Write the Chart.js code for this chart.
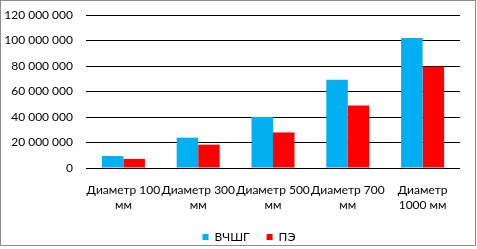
<!DOCTYPE html>
<html>
<head>
<meta charset="utf-8">
<script src="https://cdn.jsdelivr.net/npm/chart.js@4/dist/chart.umd.min.js"></script>
<style>
  html, body { margin: 0; padding: 0; background: #fff; }
  #frame { position: absolute; left: 0; top: 0; width: 476px; height: 246px; box-sizing: border-box; border: 1px solid #8c8c8c; }
  #wrap { position: absolute; left: 0; top: 0; width: 477px; height: 249px; }
</style>
</head>
<body>
<div id="frame"></div>
<div id="wrap"><canvas id="c" width="477" height="249"></canvas></div>
<script>
const categories = [
  ['Диаметр 100', 'мм'],
  ['Диаметр 300', 'мм'],
  ['Диаметр 500', 'мм'],
  ['Диаметр 700', 'мм'],
  ['Диаметр', '1000 мм']
];
const seriesNames = ['ВЧШГ', 'ПЭ'];
const vchshg = [9400000, 23800000, 40000000, 69200000, 102000000];
const pe = [7100000, 18300000, 27900000, 49100000, 79500000];
const yTickValues = [0, 20000000, 40000000, 60000000, 80000000, 100000000, 120000000];
const yTickLabels = ['0', '20 000 000', '40 000 000', '60 000 000', '80 000 000', '100 000 000', '120 000 000'];

const FONT = 'Lato';
Chart.defaults.font.family = FONT;
Chart.defaults.font.size = 12;
Chart.defaults.color = '#000';

const legendShift = {
  id: 'legendShift',
  afterLayout(chart) {
    if (chart.legend) { chart.legend.left += 19; chart.legend.right += 19; }
  }
};

new Chart(document.getElementById('c'), {
  type: 'bar',
  data: {
    labels: categories,
    datasets: [
      { label: seriesNames[0], data: vchshg, backgroundColor: '#00B0F0', borderWidth: 0 },
      { label: seriesNames[1], data: pe, backgroundColor: '#FF0000', borderWidth: 0 }
    ]
  },
  plugins: [legendShift],
  options: {
    responsive: false,
    animation: false,
    devicePixelRatio: 1,
    layout: { padding: { left: 0, right: 17, top: 15, bottom: -4 } },
    plugins: {
      tooltip: { enabled: false },
      legend: {
        position: 'bottom',
        labels: { boxWidth: 6, boxHeight: 6, padding: 17, color: '#000', font: { size: 12 } }
      }
    },
    datasets: { bar: { categoryPercentage: 0.575, barPercentage: 1.0 } },
    scales: {
      x: {
        afterFit: (axis) => { axis.height = 46; },
        grid: { display: false, drawTicks: false },
        border: { display: false },
        ticks: { maxRotation: 0, minRotation: 0, autoSkip: false, padding: 15, color: '#000', font: { size: 12, lineHeight: 1.25 } }
      },
      y: {
        min: 0, max: 120000000,
        afterBuildTicks: (axis) => { axis.ticks = yTickValues.map(v => ({ value: v })); },
        afterFit: (axis) => { axis.width = 86; axis.paddingTop = 0; axis.paddingBottom = 0; },
        grid: { color: '#000', lineWidth: 1, drawTicks: false },
        border: { display: false },
        ticks: {
          padding: 13,
          color: '#000',
          callback: (v) => { const i = yTickValues.indexOf(v); return i >= 0 ? yTickLabels[i] : ''; }
        }
      }
    }
  }
});
</script>
</body>
</html>
